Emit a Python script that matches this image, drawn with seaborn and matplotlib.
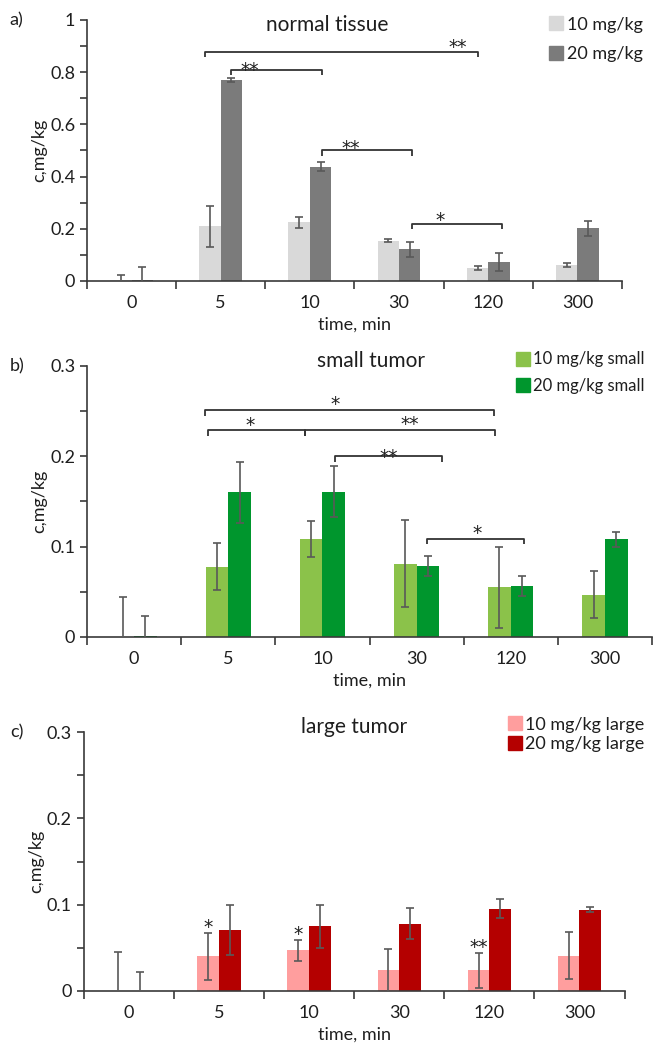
import numpy as np
import pandas as pd
import seaborn as sns
import matplotlib.pyplot as plt
from matplotlib.ticker import MultipleLocator, FuncFormatter
from matplotlib.lines import Line2D

times = ['0', '5', '10', '30', '120', '300']

# normal tissue
normal_10 = [0.003, 0.209, 0.224, 0.154, 0.050, 0.060]
normal_10_err = [0.020, 0.078, 0.020, 0.006, 0.007, 0.008]
normal_20 = [0.004, 0.770, 0.438, 0.121, 0.073, 0.202]
normal_20_err = [0.050, 0.008, 0.018, 0.028, 0.033, 0.028]

# small tumor
small_10 = [0.0, 0.078, 0.108, 0.081, 0.055, 0.047]
small_10_err = [0.044, 0.026, 0.020, 0.048, 0.045, 0.026]
small_20 = [0.0015, 0.160, 0.161, 0.079, 0.056, 0.108]
small_20_err = [0.022, 0.034, 0.028, 0.011, 0.011, 0.008]

# large tumor
large_10 = [0.0, 0.040, 0.047, 0.024, 0.024, 0.041]
large_10_err = [0.045, 0.027, 0.012, 0.025, 0.020, 0.027]
large_20 = [0.0, 0.071, 0.075, 0.078, 0.095, 0.094]
large_20_err = [0.022, 0.029, 0.025, 0.018, 0.011, 0.003]

# significance brackets: (x from, x to, height, label, label x, label y)
brackets_a = [(0.82, 3.88, 0.877, '**', 3.66, 0.916),
              (1.11, 2.14, 0.810, '**', 1.32, 0.828),
              (2.14, 3.14, 0.500, '**', 2.46, 0.529),
              (3.14, 4.16, 0.220, '*', 3.46, 0.253)]
brackets_b = [(0.75, 3.82, 0.251, '*', 2.14, 0.263),
              (0.79, 1.81, 0.229, '*', 1.23, 0.240),
              (1.81, 3.83, 0.229, '**', 2.93, 0.241),
              (2.13, 3.27, 0.200, '**', 2.70, 0.205),
              (3.11, 4.14, 0.109, '*', 3.64, 0.120)]
# stars over single bars in large tumor (category index, label)
stars_c = [(1, '*'), (2, '*'), (4, '**')]

sns.set_style('white')
plt.rcParams['font.family'] = ['Lato', 'DejaVu Sans']

FS = 13
STAR_FS = 13.5
AX_COLOR = '#3a3a3a'
ERR_COLOR = '#595959'
TXT = '#1e1e1e'

fig = plt.figure(figsize=(6.54, 10.48), dpi=100)


def draw_panel(rect, v10, e10, v20, e20, names, colors, ymax, major, minor,
               title, title_xy, letter, leg_xy, leg_fs, leg_space):
    ax = fig.add_axes(rect)
    df = pd.DataFrame({
        'time': times * 2,
        'c': v10 + v20,
        'dose': [names[0]] * 6 + [names[1]] * 6,
    })
    sns.barplot(data=df, x='time', y='c', hue='dose', order=times,
                hue_order=names, palette=colors, width=0.48, saturation=1,
                errorbar=None, legend=False, linewidth=0, ax=ax)
    bars = ax.patches
    centers = [b.get_x() + b.get_width() / 2 for b in bars]
    ax.errorbar(centers[:6], v10, yerr=e10, fmt='none', ecolor=ERR_COLOR,
                elinewidth=1.2, capsize=3, capthick=1.2, zorder=3)
    ax.errorbar(centers[6:12], v20, yerr=e20, fmt='none', ecolor=ERR_COLOR,
                elinewidth=1.2, capsize=3, capthick=1.2, zorder=3)

    ax.set_xlim(-0.5, 5.5)
    ax.set_ylim(0, ymax)
    ax.yaxis.set_major_locator(MultipleLocator(major))
    ax.yaxis.set_minor_locator(MultipleLocator(minor))
    ax.yaxis.set_major_formatter(FuncFormatter(lambda v, p: '%g' % round(v, 3)))
    ax.set_xticks(range(6))
    ax.set_xticklabels(times)
    ax.set_xticks(np.arange(-0.5, 6.0, 1.0), minor=True)
    ax.tick_params(axis='x', which='major', length=0, pad=10, labelsize=FS,
                   colors=TXT)
    ax.tick_params(axis='x', which='minor', length=6, width=1.2,
                   direction='out', color=AX_COLOR, bottom=True)
    ax.tick_params(axis='y', which='both', length=5, width=1.2,
                   direction='out', color=AX_COLOR, left=True,
                   labelsize=FS, labelcolor=TXT)
    for s in ['top', 'right']:
        ax.spines[s].set_visible(False)
    for s in ['left', 'bottom']:
        ax.spines[s].set_color(AX_COLOR)
        ax.spines[s].set_linewidth(1.2)
    ax.set_xlabel('time, min', fontsize=FS, color=TXT, labelpad=4)
    ax.set_ylabel('c,mg/kg', fontsize=FS, color=TXT, labelpad=2)

    fig.text(title_xy[0], title_xy[1], title, ha='center', va='center',
             fontsize=15, color=TXT)
    fig.text(0.015, rect[1] + rect[3], letter, ha='left', va='center',
             fontsize=FS, color=TXT)

    handles = [Line2D([], [], marker='s', linestyle='none', markersize=10,
                      markerfacecolor=c, markeredgecolor=c) for c in colors]
    fig.legend(handles, names, loc='upper left', bbox_to_anchor=leg_xy,
               frameon=False, fontsize=leg_fs, handletextpad=0.1,
               labelspacing=leg_space, borderaxespad=0, handlelength=1.0,
               labelcolor=TXT)
    return ax, centers


def star(ax, x, y, lab):
    # y is where the centre of the star glyph should sit
    ax.annotate(lab, (x, y), xytext=(0, -0.58 * STAR_FS),
                textcoords='offset points', ha='center', va='baseline',
                fontsize=STAR_FS, family='DejaVu Sans', color=TXT)


def draw_brackets(ax, brackets, drop):
    for x0, x1, y, lab, lx, ly in brackets:
        ax.plot([x0, x0, x1, x1], [y - drop, y, y, y - drop], color='#333333',
                lw=1.3, solid_capstyle='butt', clip_on=False)
        star(ax, lx, ly, lab)


ax_a, _ = draw_panel([0.133, 0.7319, 0.818, 0.2491], normal_10, normal_10_err,
                     normal_20, normal_20_err, ['10 mg/kg', '20 mg/kg'],
                     ['#d9d9d9', '#7b7b7b'], 1.0, 0.2, 0.1,
                     'normal tissue', (0.50, 0.9761), 'a)', (0.825, 0.991),
                     FS, 0.75)
draw_brackets(ax_a, brackets_a, 0.02)

ax_b, _ = draw_panel([0.133, 0.3922, 0.864, 0.2586], small_10, small_10_err,
                     small_20, small_20_err,
                     ['10 mg/kg small', '20 mg/kg small'],
                     ['#8bc24a', '#00962d'], 0.3, 0.1, 0.05,
                     'small tumor', (0.567, 0.6555), 'b)', (0.776, 0.671),
                     12, 0.62)
draw_brackets(ax_b, brackets_b, 0.006)

ax_c, centers_c = draw_panel([0.128, 0.0544, 0.827, 0.2471], large_10,
                             large_10_err, large_20, large_20_err,
                             ['10 mg/kg large', '20 mg/kg large'],
                             ['#ff9e9e', '#b40000'], 0.3, 0.1, 0.05,
                             'large tumor', (0.541, 0.3063), 'c)',
                             (0.762, 0.323), FS, 0.2)
for i, lab in stars_c:
    star(ax_c, centers_c[i], large_10[i] + large_10_err[i] + 0.013, lab)

fig.savefig('out.png', dpi=100)
